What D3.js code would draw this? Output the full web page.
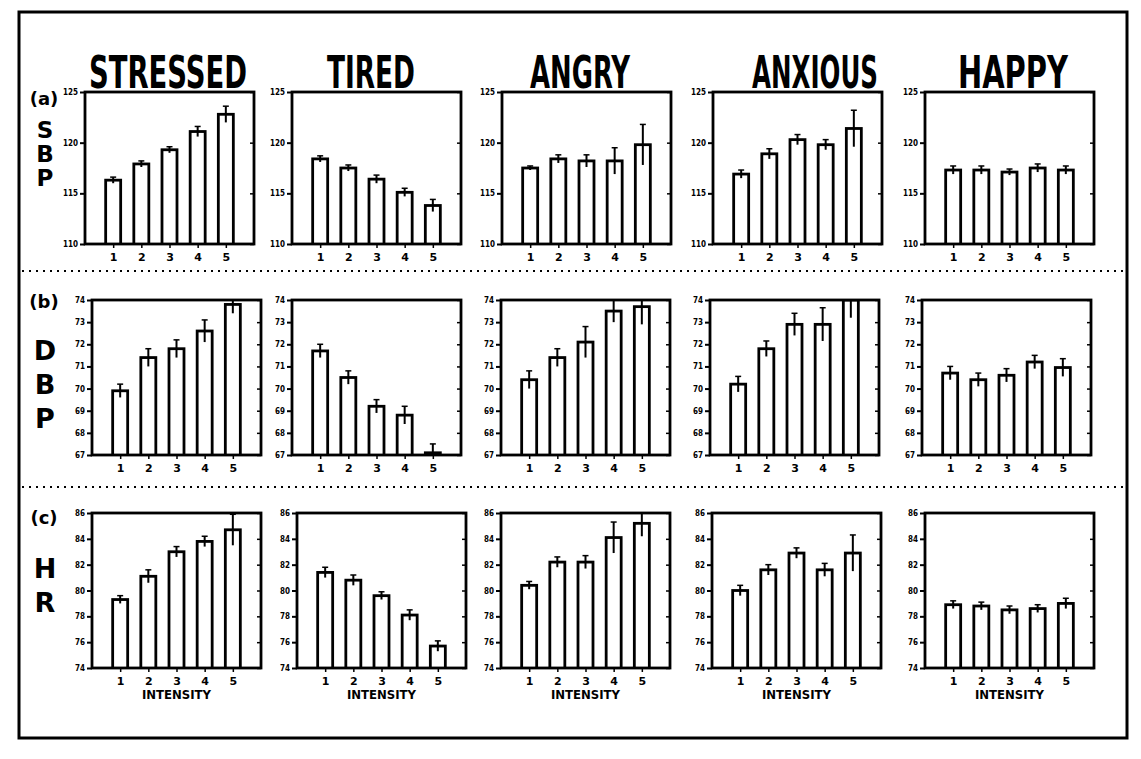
<!DOCTYPE html>
<html><head><meta charset="utf-8">
<script src="https://cdn.jsdelivr.net/npm/d3@7"></script>
<style>body{margin:0;background:#fff}svg{display:block}</style>
</head><body>
<script>
const emotions = ["STRESSED","TIRED","ANGRY","ANXIOUS","HAPPY"];
const intensities = ["1","2","3","4","5"];
const rowLetters = ["(a)","(b)","(c)"];
const measures = ["SBP","DBP","HR"];

const sbpTicks = [110,115,120,125];
const dbpTicks = [67,68,69,70,71,72,73,74];
const hrTicks = [74,76,78,80,82,84,86];

const sbpStressed = [116.3,117.9,119.3,121.1,122.8];
const sbpTired    = [118.4,117.5,116.4,115.1,113.8];
const sbpAngry    = [117.5,118.4,118.2,118.2,119.8];
const sbpAnxious  = [116.9,118.9,120.3,119.8,121.4];
const sbpHappy    = [117.3,117.3,117.1,117.5,117.3];
const sbpErrStressed = [0.3,0.3,0.3,0.5,0.8];
const sbpErrTired    = [0.3,0.3,0.4,0.4,0.6];
const sbpErrAngry    = [0.2,0.4,0.6,1.3,2.0];
const sbpErrAnxious  = [0.4,0.5,0.5,0.5,1.8];
const sbpErrHappy    = [0.4,0.4,0.3,0.4,0.4];

const dbpStressed = [69.9,71.4,71.8,72.6,73.8];
const dbpTired    = [71.7,70.5,69.2,68.8,67.1];
const dbpAngry    = [70.4,71.4,72.1,73.5,73.7];
const dbpAnxious  = [70.2,71.8,72.9,72.9,74.0];
const dbpHappy    = [70.7,70.4,70.6,71.2,70.95];
const dbpErrStressed = [0.3,0.4,0.4,0.5,0.4];
const dbpErrTired    = [0.3,0.3,0.3,0.4,0.4];
const dbpErrAngry    = [0.4,0.4,0.7,0.5,0.8];
const dbpErrAnxious  = [0.35,0.35,0.5,0.75,0.8];
const dbpErrHappy    = [0.3,0.3,0.3,0.3,0.4];

const hrStressed = [79.3,81.1,83.0,83.8,84.7];
const hrTired    = [81.4,80.8,79.6,78.1,75.7];
const hrAngry    = [80.4,82.2,82.2,84.1,85.2];
const hrAnxious  = [80.0,81.6,82.9,81.6,82.9];
const hrHappy    = [78.9,78.8,78.5,78.6,79.0];
const hrErrStressed = [0.3,0.5,0.4,0.4,1.2];
const hrErrTired    = [0.4,0.4,0.3,0.4,0.4];
const hrErrAngry    = [0.3,0.4,0.5,1.2,1.0];
const hrErrAnxious  = [0.4,0.4,0.4,0.5,1.4];
const hrErrHappy    = [0.3,0.3,0.3,0.3,0.4];

const rows = [
  {ticks: sbpTicks, vals:[sbpStressed,sbpTired,sbpAngry,sbpAnxious,sbpHappy], errs:[sbpErrStressed,sbpErrTired,sbpErrAngry,sbpErrAnxious,sbpErrHappy]},
  {ticks: dbpTicks, vals:[dbpStressed,dbpTired,dbpAngry,dbpAnxious,dbpHappy], errs:[dbpErrStressed,dbpErrTired,dbpErrAngry,dbpErrAnxious,dbpErrHappy]},
  {ticks: hrTicks,  vals:[hrStressed,hrTired,hrAngry,hrAnxious,hrHappy],      errs:[hrErrStressed,hrErrTired,hrErrAngry,hrErrAnxious,hrErrHappy]}
];

// layout
const W = 1141, H = 759;
const colX = [[85,292,502,713,925],[92,292,501,710,922],[92,297,501,712,925]];
const rowTop = [92,300,513];
const rowH = [152,155,155];
const panelW = 169;

const svg = d3.select("body").append("svg").attr("width",W).attr("height",H);
svg.append("rect").attr("width",W).attr("height",H).attr("fill","#fff");

// outer frame
svg.append("rect").attr("x",19).attr("y",12).attr("width",1108).attr("height",726)
  .attr("fill","none").attr("stroke","#000").attr("stroke-width",3);
// dotted separators
[271,487].forEach(y=>{
  svg.append("line").attr("x1",22).attr("x2",1124).attr("y1",y).attr("y2",y)
    .attr("stroke","#000").attr("stroke-width",2).attr("stroke-dasharray","2,5");
});

const titleFont = "'Liberation Sans Narrow','DejaVu Sans Condensed',Arial,sans-serif";
const titleCenters = [168,371,580,815,1013];
const titleWidths = [158,88,100,126,110];
emotions.forEach((e,i)=>{
  const t = svg.append("text").attr("x",0).attr("y",0)
    .attr("text-anchor","middle").attr("font-family",titleFont)
    .attr("font-weight","bold").attr("font-size",44)
    .text(e);
  const len = t.node().getComputedTextLength();
  t.attr("transform",`translate(${titleCenters[i]},88) scale(${titleWidths[i]/len},1)`);
});

// row labels
const letterY = [105,308,524];
const measureYs = [[138,162,186],[360,394,428],[578,612]];
rowLetters.forEach((l,r)=>{
  svg.append("text").attr("x",44).attr("y",letterY[r]).attr("text-anchor","middle")
    .attr("font-family","'DejaVu Sans',sans-serif").attr("font-size",18).attr("font-weight","bold").text(l);
  measures[r].split("").forEach((ch,k)=>{
    svg.append("text").attr("x",45).attr("y",measureYs[r][k]).attr("text-anchor","middle")
      .attr("font-family","'DejaVu Sans',sans-serif").attr("font-size",r===0?23:27).attr("font-weight","bold").text(ch);
  });
});

let clipId = 0;
rows.forEach((row,r)=>{
  emotions.forEach((e,c)=>{
    const x0 = colX[r][c], y0 = rowTop[r], h = rowH[r];
    const g = svg.append("g").attr("transform",`translate(${x0},${y0})`);
    const y = d3.scaleLinear().domain([row.ticks[0], row.ticks[row.ticks.length-1]]).range([h,0]);
    const x = d3.scaleLinear().domain([0,6]).range([0,panelW]);
    const vals = row.vals[c], errs = row.errs[c];
    const id = "clip"+(clipId++);
    g.append("clipPath").attr("id",id).append("rect").attr("x",0).attr("y",-1).attr("width",panelW).attr("height",h+1);
    const inner = g.append("g").attr("clip-path",`url(#${id})`);
    const bw = 15;
    inner.selectAll("rect.bar").data(vals).join("rect").attr("class","bar")
      .attr("x",(d,i)=>x(i+1)-bw/2).attr("width",bw)
      .attr("y",d=>y(d)).attr("height",d=>h-y(d)+3)
      .attr("fill","#fff").attr("stroke","#000").attr("stroke-width",2.8);
    inner.selectAll("line.err").data(vals).join("line").attr("class","err")
      .attr("x1",(d,i)=>x(i+1)).attr("x2",(d,i)=>x(i+1))
      .attr("y1",(d,i)=>y(d-errs[i])).attr("y2",(d,i)=>y(d+errs[i]))
      .attr("stroke","#000").attr("stroke-width",2);
    inner.selectAll("line.cap").data(vals).join("line").attr("class","cap")
      .attr("x1",(d,i)=>x(i+1)-3).attr("x2",(d,i)=>x(i+1)+3)
      .attr("y1",(d,i)=>y(d+errs[i])).attr("y2",(d,i)=>y(d+errs[i]))
      .attr("stroke","#000").attr("stroke-width",1.5);

    // left axis
    const ax = g.append("g").call(d3.axisLeft(y).tickValues(row.ticks).tickSize(5).tickPadding(2).tickFormat(d3.format("d")));
    ax.select(".domain").remove();
    ax.selectAll("line").attr("stroke-width",2);
    ax.selectAll("text").attr("font-family","'DejaVu Sans Condensed','DejaVu Sans',sans-serif").attr("font-size",8).attr("font-weight","bold");
    // right inner ticks
    g.append("g").attr("transform",`translate(${panelW},0)`)
      .call(d3.axisLeft(y).tickValues(row.ticks).tickSize(4).tickFormat(""))
      .call(s=>{s.select(".domain").remove(); s.selectAll("line").attr("stroke-width",1.5);});
    // bottom axis
    const bx = g.append("g").attr("transform",`translate(0,${h})`)
      .call(d3.axisBottom(x).tickValues([1,2,3,4,5]).tickSize(4).tickPadding(5).tickFormat((d,i)=>intensities[i]));
    bx.select(".domain").remove();
    bx.selectAll("line").attr("stroke-width",1.5);
    bx.selectAll("text").attr("font-family","'DejaVu Sans',sans-serif").attr("font-size",11).attr("font-weight","bold");
    // frame
    g.append("rect").attr("x",0).attr("y",0).attr("width",panelW).attr("height",h)
      .attr("fill","none").attr("stroke","#000").attr("stroke-width",2.8);
    if (r===2){
      g.append("text").attr("x",panelW/2).attr("y",h+31).attr("text-anchor","middle")
        .attr("font-family","'DejaVu Sans Condensed','DejaVu Sans',sans-serif").attr("font-size",13).attr("font-weight","bold")
        .text("INTENSITY");
    }
  });
});
</script>
</body></html>
